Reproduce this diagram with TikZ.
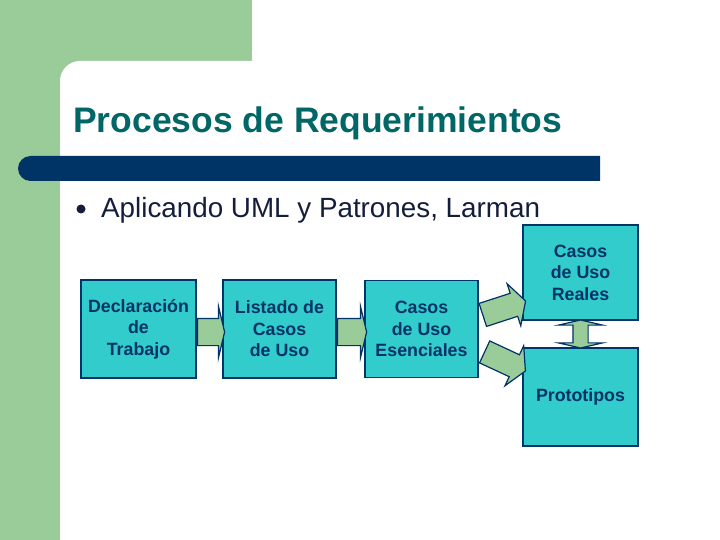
\documentclass[tikz,border=0pt]{standalone}
\usepackage{fontspec}
\setmainfont{Liberation Sans}
\usetikzlibrary{calc, shapes.arrows}
\definecolor{verde}{RGB}{153,204,153}
\definecolor{cian}{RGB}{51,204,204}
\definecolor{azul}{RGB}{0,51,102}
\definecolor{tit}{RGB}{0,102,102}
\definecolor{txt}{RGB}{20,30,60}
\tikzset{%
    caja/.style={rectangle, draw=azul, line width=1.5pt, fill=cian, text=azul, align=center, inner sep=0pt, font=\bfseries\fontsize{17.8}{21.5}\selectfont},
    fle/.style={single arrow, draw=azul, line width=1.2pt, fill=verde, inner xsep=0pt, inner ysep=13pt, single arrow head extend=12pt, single arrow tip angle=153, minimum height=27pt},
    fled/.style={single arrow, draw=azul, line width=1.2pt, fill=verde, inner xsep=0pt, inner ysep=11.5pt, single arrow head extend=10pt, single arrow tip angle=122, minimum height=45pt},
    fdoble/.style={double arrow, draw=azul, line width=1.2pt, fill=verde, inner xsep=0pt, inner ysep=7pt, double arrow head extend=14.5pt, double arrow tip angle=154, minimum height=28pt},
}

\begin{document}
\begin{tikzpicture}[x=1pt, y=-1pt]
    \useasboundingbox (0,0) rectangle (720,540);
    % fondo
    \fill [white] (0,0) rectangle (720,540);
    \fill [verde] (0,0) rectangle (252,100);
    \fill [verde] (0,0) rectangle (60,540);
    \fill [white] (60,540) -- (60,81) arc[start angle=180, end angle=270, radius=20] -- (260,61) -- (260,540) -- cycle;
    \fill [azul] (600,156) -- (30.5,156) arc[start angle=270, end angle=90, radius=12.5] -- (600,181) -- cycle;
    % textos
    \node [anchor=base west, inner sep=0pt, text=tit, font=\bfseries\fontsize{35.5}{40}\selectfont] (titulo) at (73,133) {Procesos de Requerimientos};
    \node [circle, fill=txt, inner sep=0pt, minimum size=9pt] (punto) at (81,209) {};
    \node [anchor=base west, inner sep=0pt, text=txt, font=\fontsize{27.8}{32}\selectfont] (vineta) at (101,218) {Aplicando UML y Patrones, Larman};
    % cajas
    \node [caja, minimum width=115pt, minimum height=98pt] (decl) at (138.5,329) {Declaración\\de\\Trabajo};
    \node [caja, minimum width=113pt, minimum height=98pt] (listado) at (279.5,329) {Listado de\\Casos\\de Uso};
    \node [caja, minimum width=113pt, minimum height=97pt] (esenc) at (421.5,329) {Casos\\de Uso\\Esenciales};
    \node [caja, minimum width=115pt, minimum height=95pt] (reales) at (580.5,272.5) {Casos\\de Uso\\Reales};
    \node [caja, minimum width=115pt, minimum height=98pt] (proto) at (580.5,397) {Prototipos};
    % flechas
    \node [fle] (f1) at ($(decl.east)!0.5!(listado.west)+(0,3)$) {};
    \node [fle, minimum height=29pt] (f2) at ($(listado.east)!0.5!(esenc.west)+(0,3)$) {};
    \node [fled, rotate=18] (f3) at (501,309) {};
    \node [fled, rotate=-25] (f4) at (502,360) {};
    \node [fdoble, rotate=90] (f5) at ($(reales.south)!0.5!(proto.north)$) {};
\end{tikzpicture}
\end{document}
